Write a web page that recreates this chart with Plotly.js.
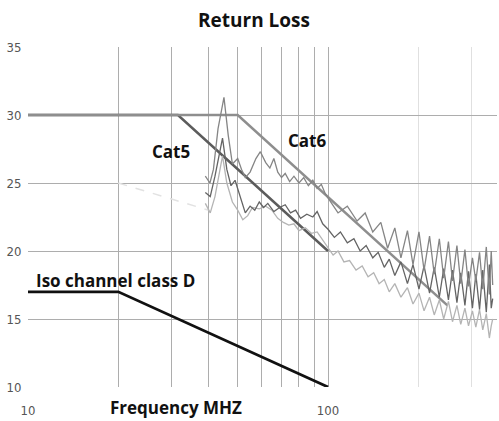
<!DOCTYPE html>
<html>
<head>
<meta charset="utf-8">
<script src="https://cdn.plot.ly/plotly-3.0.1.min.js"></script>
<style>html,body{margin:0;padding:0;background:#fff;}#chart{width:499px;height:421px;}</style>
</head>
<body>
<div id="chart"></div>
<script>
// Limit lines (frequency MHz, return loss dB)
var isoFreq = [10, 20, 100];
var isoRL = [17, 17, 10];
var cat5Freq = [10, 31.6, 100];
var cat5RL = [30, 30, 20];
var cat6Freq = [10, 50, 250];
var cat6RL = [30, 30, 16.0];
var faintFreq = [20, 40];
var faintRL = [25, 23];

// Measured curves
var c1Freq = [39, 40.4, 41.5, 43, 45, 46.5, 48, 50, 51.5, 53, 55, 57.5, 59.5, 62, 64, 66, 68, 70, 72, 74.5, 77, 80, 83, 86, 89, 92, 95, 98,
  100, 108, 116, 125, 133, 141, 150, 158, 167, 175, 184, 192, 201, 209, 218, 226, 235, 243, 252, 260, 269, 277, 286, 294, 303, 311, 320, 328, 337, 345, 350, 354];
var c1RL = [25.5, 25.0, 26.0, 29.0, 31.3, 28.5, 26.4, 26.8, 26.0, 25.4, 25.8, 26.8, 27.3, 26.5, 26.1, 26.8, 25.8, 25.4, 25.7, 25.1, 25.5, 25.0, 25.4, 24.8, 25.2, 24.6, 24.9, 24.2,
  23.9, 22.8, 23.3, 22.2, 22.8, 21.4, 22.1, 20.2, 21.7, 19.5, 21.5, 19.0, 21.4, 18.6, 21.1, 18.3, 20.9, 18.0, 20.7, 17.8, 20.4, 17.6, 20.1, 17.4, 19.5, 17.8, 19.9, 17.2, 20.3, 16.8, 20.0, 17.5];

var c2Freq = [39, 40.5, 42, 44.5, 46, 47.5, 49, 51, 53, 55, 57, 59, 61, 63, 66, 69, 72, 75, 78, 81, 85, 89, 92, 96,
  100, 105, 110, 116, 122, 128, 134, 141, 147, 154, 160, 167, 175, 184, 192, 201, 209, 218, 226, 235, 243, 252, 260, 269, 277, 286, 294, 303, 311, 320, 328, 337, 345, 350, 354];
var c2RL = [24.3, 24.0, 25.5, 28.3, 26.0, 24.8, 25.2, 24.0, 22.8, 23.3, 23.0, 23.6, 23.2, 23.5, 22.9, 23.2, 23.4, 22.8, 23.0, 22.4, 22.7, 22.5, 22.9, 22.0,
  21.6, 21.0, 21.4, 20.6, 20.9, 20.0, 20.4, 19.5, 19.9, 18.8, 19.4, 18.2, 19.2, 17.6, 19.0, 17.2, 18.9, 16.9, 18.8, 16.6, 18.7, 16.4, 18.6, 16.2, 18.4, 16.0, 18.5, 15.8, 18.3, 15.7, 18.6, 15.5, 19.0, 15.8, 16.5];

var c3Freq = [39, 40.5, 42, 44.5, 46, 48, 50, 52, 54, 56, 59, 62, 65, 68, 71, 74, 77, 80, 84, 88, 92, 96,
  100, 104, 108, 113, 118, 124, 130, 136, 142, 148, 154, 160, 167, 175, 184, 192, 201, 209, 218, 226, 235, 243, 252, 260, 269, 277, 286, 294, 303, 311, 320, 328, 337, 345, 350, 354];
var c3RL = [23.5, 22.8, 24.0, 27.0, 25.0, 23.6, 23.0, 22.3, 22.6, 23.2, 23.1, 23.3, 23.0, 22.4, 22.1, 21.9, 22.0, 21.5, 21.7, 21.3, 21.4, 20.8,
  20.3, 19.7, 20.0, 19.2, 19.3, 18.6, 18.9, 18.1, 18.4, 17.6, 17.9, 17.0, 17.6, 16.6, 17.3, 16.1, 16.9, 15.6, 16.6, 15.3, 16.4, 15.0, 16.3, 14.8, 16.0, 14.6, 15.8, 14.5, 15.6, 14.4, 15.7, 14.2, 15.4, 13.6, 14.5, 15.0];

var xTickVals = [10, 20, 30, 40, 50, 60, 70, 80, 90, 100];
var xTickText = ['10', '', '', '', '', '', '', '', '', '100'];
var xMinorVals = [200, 300];
var yTickVals = [10, 15, 20, 25, 30, 35];

var labelFont = {family: '"Open Sans", Lato, sans-serif', size: 17, color: '#111'};
var tickFont = {family: '"Liberation Sans Narrow", "DejaVu Sans Condensed", sans-serif', size: 13, color: '#555'};

var traces = [
  {x: faintFreq, y: faintRL, mode: 'lines', line: {color: '#e2e2e2', width: 1.5, dash: 'dash'}},
  {x: cat5Freq, y: cat5RL, mode: 'lines', line: {color: '#5c5c5c', width: 2.5}},
  {x: cat6Freq, y: cat6RL, mode: 'lines', line: {color: '#8e8e8e', width: 2.5}},
  {x: c3Freq, y: c3RL, mode: 'lines', line: {color: '#b4b4b4', width: 1.3}},
  {x: c2Freq, y: c2RL, mode: 'lines', line: {color: '#646464', width: 1.3}},
  {x: c1Freq, y: c1RL, mode: 'lines', line: {color: '#858585', width: 1.3}},
  {x: isoFreq, y: isoRL, mode: 'lines', line: {color: '#111111', width: 2.8}}
];

var layout = {
  width: 499, height: 421,
  margin: {l: 28, r: 2, t: 47, b: 34},
  paper_bgcolor: '#fff', plot_bgcolor: '#fff',
  showlegend: false,
  hovermode: false,
  title: {text: '<b>Return Loss</b>', x: 0.509, xanchor: 'center', y: 0.952, yanchor: 'middle',
    font: {family: '"Open Sans", Lato, sans-serif', size: 19, color: '#111'}},
  xaxis: {
    type: 'log', range: [1, 2.5633],
    tickmode: 'array', tickvals: xTickVals, ticktext: xTickText,
    showgrid: true, gridcolor: '#adadad', gridwidth: 1,
    minor: {tickmode: 'array', tickvals: xMinorVals, showgrid: true, gridcolor: '#e0e0e0', gridwidth: 1, ticks: ''},
    zeroline: false, showline: false,
    ticks: 'outside', ticklen: 11, tickcolor: 'rgba(0,0,0,0)',
    tickfont: tickFont
  },
  yaxis: {
    range: [10, 35], tickmode: 'array', tickvals: yTickVals,
    showgrid: true, gridcolor: '#adadad', gridwidth: 1,
    zeroline: false, showline: false,
    ticks: 'outside', ticklen: 3, tickcolor: 'rgba(0,0,0,0)',
    tickfont: tickFont
  },
  annotations: [
    {text: '<b>Cat5</b>', xref: 'paper', yref: 'paper', x: 0.305, y: 0.694, xanchor: 'center', yanchor: 'middle', showarrow: false, font: labelFont},
    {text: '<b>Cat6</b>', xref: 'paper', yref: 'paper', x: 0.595, y: 0.726, xanchor: 'center', yanchor: 'middle', showarrow: false, font: labelFont},
    {text: '<b>Iso channel class D</b>', xref: 'paper', yref: 'paper', x: 0.012, y: 0.312, xanchor: 'left', yanchor: 'middle', showarrow: false, font: labelFont},
    {text: '<b>Frequency MHZ</b>', xref: 'paper', yref: 'paper', x: 0.316, y: -0.059, xanchor: 'center', yanchor: 'middle', showarrow: false, font: labelFont}
  ]
};

Plotly.newPlot('chart', traces, layout, {displayModeBar: false, staticPlot: true});
</script>
</body>
</html>
